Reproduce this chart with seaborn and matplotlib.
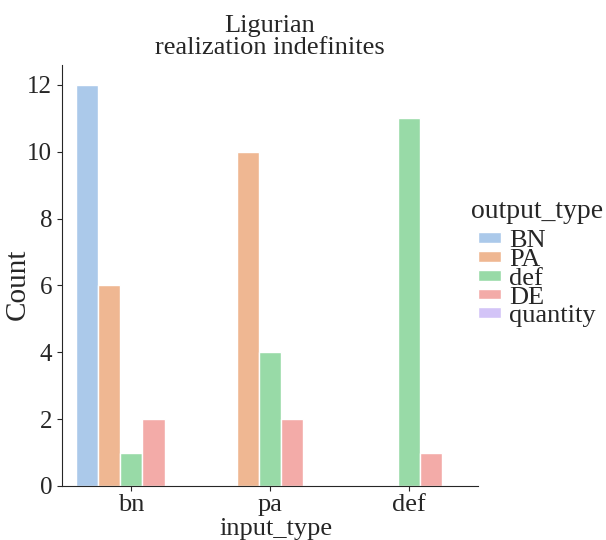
import numpy as np
import pandas as pd
import matplotlib
matplotlib.use("Agg")
import matplotlib.pyplot as plt
import seaborn as sns

# categories and counts
input_types = ["bn", "pa", "def"]
output_types = ["BN", "PA", "def", "DE", "quantity"]
count_BN = [12, 0, 0]
count_PA = [6, 10, 0]
count_def = [1, 4, 11]
count_DE = [2, 2, 1]
count_quantity = [0, 0, 0]

counts = {"BN": count_BN, "PA": count_PA, "def": count_def,
          "DE": count_DE, "quantity": count_quantity}

# expand to one row per observation so countplot can count them
rows = []
for out in output_types:
    for inp, n in zip(input_types, counts[out]):
        rows += [(inp, out)] * n
df = pd.DataFrame(rows, columns=["input_type", "output_type"])

sns.set_style("ticks")
plt.rcParams["font.family"] = ["Liberation Serif", "DejaVu Serif"]
plt.rcParams["font.size"] = 18

fig = plt.figure(figsize=(6.06, 5.4), dpi=100)
ax = fig.add_axes([0.102, 0.1, 0.687, 0.78])
sns.countplot(data=df, x="input_type", hue="output_type",
              order=input_types, hue_order=output_types,
              palette="pastel", ax=ax)
sns.despine(ax=ax)
ax.set_ylim(0, 12.6)
ax.set_yticks([0, 2, 4, 6, 8, 10, 12])
ax.tick_params(axis="y", labelsize=18)
ax.tick_params(axis="x", labelsize=19, pad=2)
ax.set_xlabel("input_type", fontsize=19, labelpad=0)
ax.xaxis.set_label_coords(0.514, -0.075)
ax.set_ylabel("Count", fontsize=21)
ax.yaxis.set_label_coords(-0.075, 0.48)
ax.set_title("Ligurian\nrealization indefinites", fontsize=19, linespacing=1.0, pad=8)
sns.move_legend(ax, "upper left", bbox_to_anchor=(0.755, 0.655),
                bbox_transform=fig.transFigure, frameon=False,
                title="output_type", fontsize=19, title_fontsize=20,
                labelspacing=-0.12, handlelength=0.9, handleheight=0.25,
                handletextpad=0.3, borderpad=0)
leg = ax.get_legend()
leg._legend_box.sep = 4  # a bit of room between the legend title and the entries

fig.savefig("out.png", dpi=100)
plt.close(fig)
